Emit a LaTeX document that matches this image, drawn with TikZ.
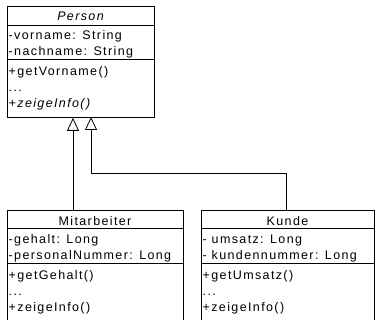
\documentclass[tikz,border=0pt]{standalone}
\usepackage{fontspec}
\setmainfont{Liberation Sans}[LetterSpace=11]
\usetikzlibrary{arrows.meta}
\begin{document}
\begin{tikzpicture}[x=1pt,y=-1pt,
  box/.style={draw,line width=0.8pt,anchor=north west,inner sep=0pt,minimum width=#1},
  txt/.style={anchor=base west,inner sep=0pt,font=\fontsize{12.5}{14}\selectfont},
  ttl/.style={anchor=base,inner sep=0pt,font=\fontsize{12.5}{14}\selectfont},
  sep/.style={line width=0.8pt},
  inh/.style={line width=0.8pt,-{Triangle[open,length=13pt,width=12pt]}}]
\useasboundingbox (0,0) rectangle (376,320);
\clip (0,0) rectangle (376,320);
% Person
\node[box=147pt,minimum height=111pt] (person) at (7,6) {};
\draw[sep] (7,25) -- (154,25);
\draw[sep] (7,59) -- (154,59);
\node[ttl] (pt) at (80.5,20.5) {\itshape Person};
\node[txt] (p1) at (8.5,39.5) {-vorname: String};
\node[txt] (p2) at (8.5,55.5) {-nachname: String};
\node[txt] (p3) at (8.5,75.5) {+getVorname()};
\node[txt] (p4) at (8.5,91.5) {...};
\node[txt] (p5) at (8.5,107.5) {\itshape +zeigeInfo()};
% Mitarbeiter
\node[box=176pt,minimum height=130pt] (mit) at (7,210) {};
\draw[sep] (7,228) -- (183,228);
\draw[sep] (7,263) -- (183,263);
\node[ttl] (mt) at (95,226) {Mitarbeiter};
\node[txt] (m1) at (8.5,244) {-gehalt: Long};
\node[txt] (m2) at (8.5,260) {-personalNummer: Long};
\node[txt] (m3) at (8.5,280) {+getGehalt()};
\node[txt] (m4) at (8.5,296) {...};
\node[txt] (m5) at (8.5,312) {+zeigeInfo()};
% Kunde
\node[box=173pt,minimum height=130pt] (kun) at (201,210) {};
\draw[sep] (201,228) -- (374,228);
\draw[sep] (201,263) -- (374,263);
\node[ttl] (kt) at (287.5,226) {Kunde};
\node[txt] (k1) at (202.5,244) {- umsatz: Long};
\node[txt] (k2) at (202.5,260) {- kundennummer: Long};
\node[txt] (k3) at (202.5,280) {+getUmsatz()};
\node[txt] (k4) at (202.5,296) {...};
\node[txt] (k5) at (202.5,312) {+zeigeInfo()};
% connectors
\coordinate (cm) at (73,210);
\coordinate (ck) at (286,210);
\coordinate (bend) at (286,173);
\draw[inh] (cm) -- (cm |- person.south);
\draw[inh] (ck) -- (bend) -- (bend -| 91,0) -- (91,117);
\end{tikzpicture}
\end{document}
